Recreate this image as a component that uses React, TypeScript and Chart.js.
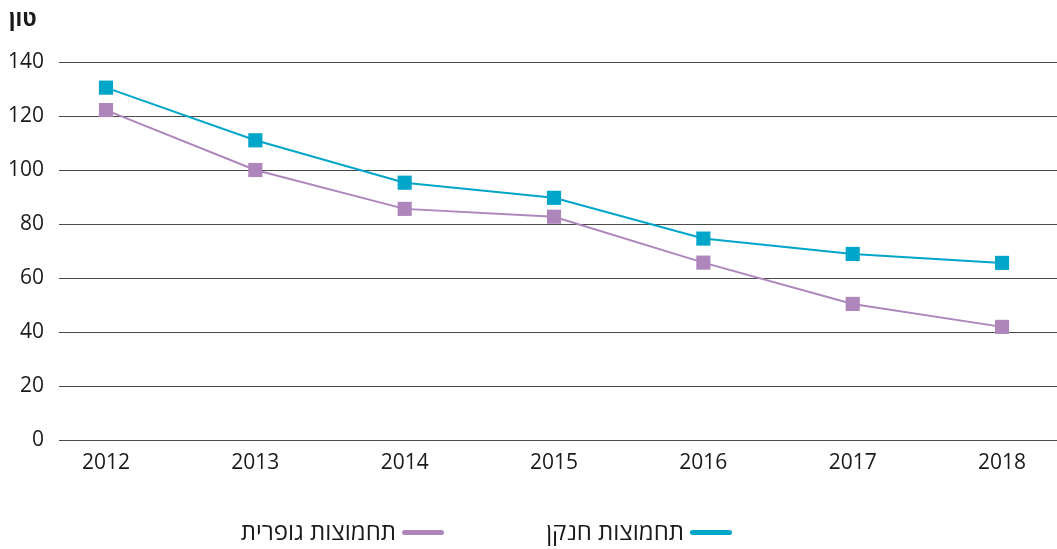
import React, { useEffect, useRef } from "react";
import { Chart, registerables } from "chart.js";

Chart.register(...registerables);

const years = [2012, 2013, 2014, 2015, 2016, 2017, 2018];
const nitrogenOxides = [130.5, 111, 95.3, 89.7, 74.6, 68.9, 65.6];
const sulfurOxides = [122.2, 100, 85.6, 82.7, 65.7, 50.4, 41.9];
const seriesNames = ["תחמוצות חנקן", "תחמוצות גופרית"];
const unitLabel = "טון";
const yTicks = [0, 20, 40, 60, 80, 100, 120, 140];

const CYAN = "#00a6c9";
const PURPLE = "#ae86bb";
const FONT = "'Open Sans', 'Noto Sans', 'DejaVu Sans', sans-serif";

export default function App() {
  const ref = useRef<HTMLCanvasElement | null>(null);

  useEffect(() => {
    if (!ref.current) return;
    const chart = new Chart(ref.current, {
      type: "line",
      data: {
        datasets: [
          {
            label: seriesNames[0],
            data: years.map((x, i) => ({ x, y: nitrogenOxides[i] })),
            borderColor: CYAN,
            backgroundColor: CYAN,
            borderWidth: 2,
            pointStyle: "rect",
            pointRadius: 10,
            pointBorderWidth: 0,
            pointBackgroundColor: CYAN,
            tension: 0,
          },
          {
            label: seriesNames[1],
            data: years.map((x, i) => ({ x, y: sulfurOxides[i] })),
            borderColor: PURPLE,
            backgroundColor: PURPLE,
            borderWidth: 2,
            pointStyle: "rect",
            pointRadius: 10,
            pointBorderWidth: 0,
            pointBackgroundColor: PURPLE,
            tension: 0,
          },
        ],
      },
      options: {
        animation: false,
        responsive: false,
        maintainAspectRatio: false,
        layout: { autoPadding: false, padding: { top: 62, bottom: 74, left: 0, right: 0 } },
        plugins: {
          legend: { display: false },
          tooltip: { enabled: false },
        },
        scales: {
          x: {
            type: "linear",
            min: 2011.6853,
            max: 2018.368,
            afterBuildTicks: (s: any) => {
              s.ticks = years.map((v) => ({ value: v }));
            },
            afterFit: (s: any) => {
              s.paddingLeft = 0;
              s.paddingRight = 0;
              s.height = 35;
            },
            grid: { display: false, drawTicks: false },
            border: { display: false },
            ticks: {
              padding: 10,
              color: "#1a1a1a",
              font: { family: FONT, size: 21, lineHeight: 1.2 },
              callback: (v: any) => String(v),
              maxRotation: 0,
              autoSkip: false,
            },
          },
          y: {
            min: 0,
            max: 140,
            afterBuildTicks: (s: any) => {
              s.ticks = yTicks.map((v) => ({ value: v }));
            },
            afterFit: (s: any) => {
              s.width = 59;
              s.paddingTop = 0;
              s.paddingBottom = 0;
            },
            grid: { color: "#4a4a4a", lineWidth: 1, drawTicks: false },
            border: { display: false },
            ticks: {
              padding: 15,
              color: "#1a1a1a",
              font: { family: FONT, size: 21 },
            },
          },
        },
      },
    });
    return () => chart.destroy();
  }, []);

  const legendText: React.CSSProperties = {
    position: "absolute",
    top: 515,
    fontFamily: FONT,
    fontSize: 24,
    color: "#1a1a1a",
    direction: "rtl",
    whiteSpace: "nowrap",
    lineHeight: "32px",
  };
  const legendLine = (color: string): React.CSSProperties => ({
    position: "absolute",
    top: 530,
    width: 42,
    height: 5,
    borderRadius: 3,
    background: color,
  });

  return (
    <div
      style={{
        position: "fixed",
        left: 0,
        top: 0,
        width: 1057,
        height: 549,
        background: "#fff",
      }}
    >
      <canvas ref={ref} width={1057} height={549} style={{ display: "block" }} />
      <div
        style={{
          position: "absolute",
          left: 9,
          top: 2,
          fontFamily: FONT,
          fontWeight: 700,
          fontSize: 22,
          color: "#1a1a1a",
          direction: "rtl",
        }}
      >
        {unitLabel}
      </div>
      <div style={{ ...legendText, right: 1057 - 684 }}>{seriesNames[0]}</div>
      <div style={{ ...legendLine(CYAN), left: 690 }} />
      <div style={{ ...legendText, right: 1057 - 396 }}>{seriesNames[1]}</div>
      <div style={{ ...legendLine(PURPLE), left: 402 }} />
    </div>
  );
}
